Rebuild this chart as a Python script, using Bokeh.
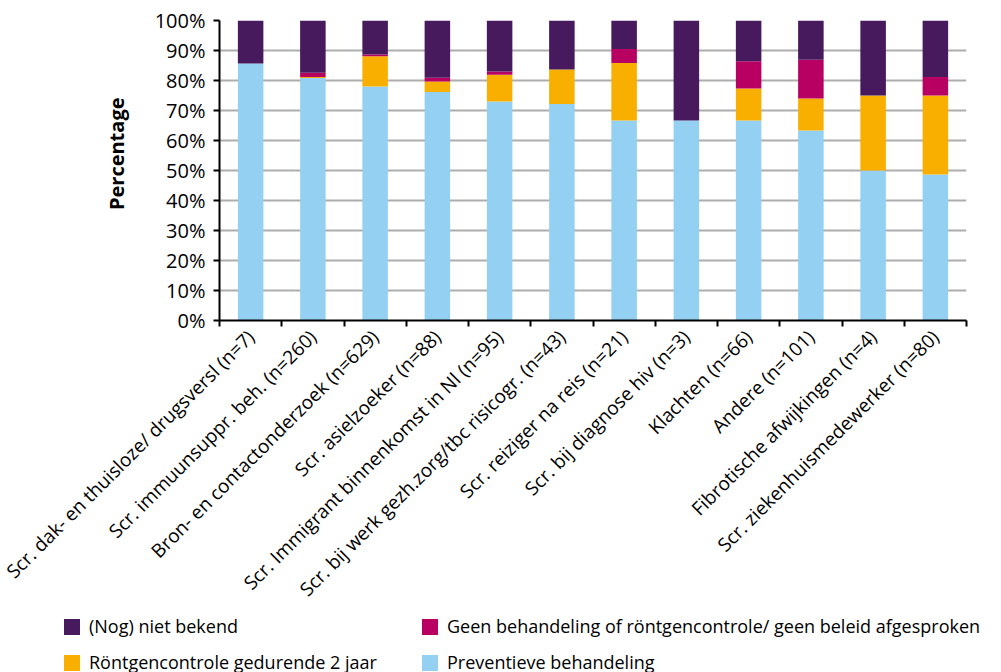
from math import pi

from bokeh.embed import file_html
from bokeh.layouts import column
from bokeh.models import (ColumnDataSource, Div, FixedTicker,
                          PrintfTickFormatter, Range1d, Title)
from bokeh.plotting import figure
from bokeh.resources import INLINE

# Reason for screening / outcome of follow-up, as a share of each group (%)
categories = [
    "Scr. dak- en thuisloze/ drugsversl (n=7)",
    "Scr. immuunsuppr. beh. (n=260)",
    "Bron- en contactonderzoek (n=629)",
    "Scr. asielzoeker (n=88)",
    "Scr. Immigrant binnenkomst in Nl (n=95)",
    "Scr. bij werk gezh.zorg/tbc risicogr. (n=43)",
    "Scr. reiziger na reis (n=21)",
    "Scr. bij diagnose hiv (n=3)",
    "Klachten (n=66)",
    "Andere (n=101)",
    "Fibrotische afwijkingen (n=4)",
    "Scr. ziekenhuismedewerker (n=80)",
]
preventief = [85.7, 80.8, 78.0, 76.2, 73.0, 72.2, 66.7, 66.7, 66.7, 63.3, 50.0, 48.7]
rontgen = [0.0, 0.4, 10.1, 3.5, 8.9, 11.5, 19.1, 0.0, 10.6, 10.7, 25.0, 26.3]
geen = [0.0, 1.4, 0.6, 1.2, 1.1, 0.0, 4.7, 0.0, 9.1, 12.9, 0.0, 6.2]
onbekend = [14.3, 17.4, 11.3, 19.1, 17.0, 16.3, 9.5, 33.3, 13.6, 13.1, 25.0, 18.8]

series_labels = [
    "Preventieve behandeling",
    "Röntgencontrole gedurende 2 jaar",
    "Geen behandeling of röntgencontrole/ geen beleid afgesproken",
    "(Nog) niet bekend",
]
y_ticks = list(range(0, 101, 10))

FONT = "Open Sans"
colors = ["#94D0F2", "#F9AF00", "#B80062", "#461A5C"]

# one slot per category; bars sit in the middle of each slot
centers = [i + 0.5 for i in range(len(categories))]
bounds = list(range(len(categories) + 1))

source = ColumnDataSource(dict(
    x=centers,
    preventief=preventief,
    rontgen=rontgen,
    geen=geen,
    onbekend=onbekend,
))

p = figure(
    width=1001, height=614,
    x_range=Range1d(0, len(categories)),
    y_range=Range1d(0, 100),
    output_backend="svg",
    toolbar_location=None,
    min_border_left=219, min_border_right=35,
    min_border_top=20, min_border_bottom=294,
)
p.outline_line_color = None

p.vbar_stack(
    ["preventief", "rontgen", "geen", "onbekend"],
    x="x", width=0.41, source=source,
    color=colors, line_color=None,
)

# y axis: percentages
p.yaxis.ticker = FixedTicker(ticks=y_ticks)
p.yaxis.formatter = PrintfTickFormatter(format="%d%%")
p.yaxis.major_label_text_font = FONT
p.yaxis.major_label_text_font_size = "20px"
p.yaxis.major_label_text_color = "black"
p.yaxis.major_label_standoff = 8
p.yaxis.major_tick_out = 6
p.yaxis.major_tick_in = 0
p.yaxis.minor_tick_line_color = None
p.yaxis.major_tick_line_width = 2
p.yaxis.major_tick_line_color = "black"
p.yaxis.axis_line_width = 2
p.yaxis.axis_line_color = "black"

# x axis: labels at the bar centres, tick marks between the categories
p.xaxis.ticker = FixedTicker(ticks=centers, minor_ticks=bounds)
p.xaxis.major_label_overrides = {c: name for c, name in zip(centers, categories)}
p.xaxis.major_label_orientation = pi / 4
p.xaxis.major_label_text_font = FONT
p.xaxis.major_label_text_font_size = "19px"
p.xaxis.major_label_text_color = "black"
p.xaxis.major_label_standoff = 7
p.xaxis.major_tick_out = 0
p.xaxis.major_tick_in = 0
p.xaxis.major_tick_line_color = None
p.xaxis.minor_tick_out = 6
p.xaxis.minor_tick_in = 0
p.xaxis.minor_tick_line_width = 2
p.xaxis.minor_tick_line_color = "black"
p.xaxis.axis_line_width = 2
p.xaxis.axis_line_color = "black"

p.xgrid.visible = False
p.ygrid.grid_line_color = "#ADADAD"
p.ygrid.grid_line_width = 2

p.add_layout(Title(
    text="Percentage", align="right", offset=77, standoff=44,
    text_font=FONT, text_font_size="20px", text_font_style="bold",
    text_color="black",
), "left")

# legend strip: two columns of two entries (swatch + label)
color_of = dict(zip(series_labels, colors))
legend_cells = [
    (series_labels[3], 64, 0), (series_labels[2], 422, 0),
    (series_labels[1], 64, 36), (series_labels[0], 422, 36),
]
parts = []
for name, left, top in legend_cells:
    parts.append(
        f'<div style="position:absolute;left:{left}px;top:{top}px;height:25px;'
        f'display:flex;align-items:center;white-space:nowrap">'
        f'<span style="display:inline-block;width:16px;height:16px;'
        f'background:{color_of[name]};margin-right:9px"></span>{name}</div>'
    )
legend_html = (
    f'<div style="position:relative;width:1001px;height:58px;'
    f'font-family:\'{FONT}\';font-size:18px;line-height:25px;color:black">'
    + "".join(parts) + "</div>"
)
legend_div = Div(text=legend_html, width=1001, height=58, margin=0)

open("out.html", "w").write(file_html(column(p, legend_div, spacing=0), INLINE))
